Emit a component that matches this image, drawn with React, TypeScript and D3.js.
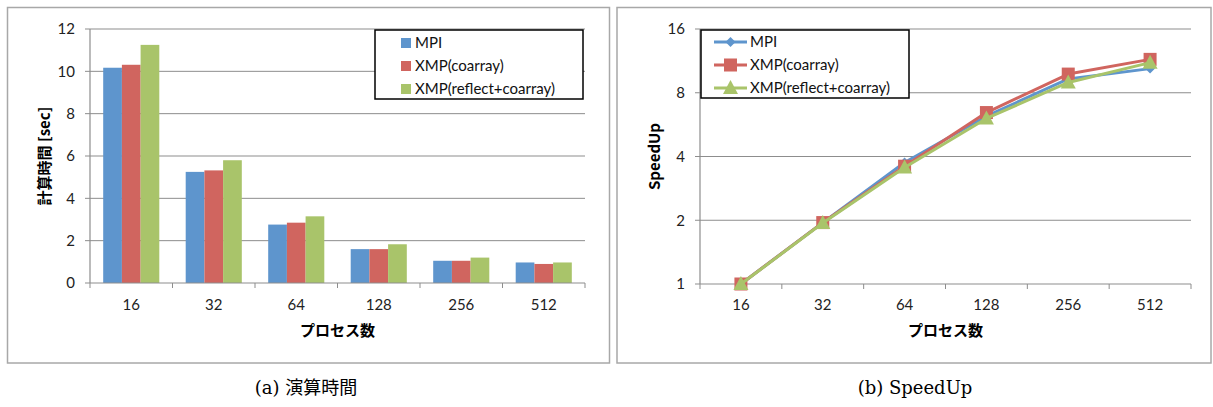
import React from 'react';
import * as d3 from 'd3';

const categories = ['16', '32', '64', '128', '256', '512'];
const seriesNames = ['MPI', 'XMP(coarray)', 'XMP(reflect+coarray)'];
const colors = ['#5e95cd', '#d0655f', '#a9c46a'];

// calc time [sec]
const timeMPI = [10.17, 5.25, 2.76, 1.6, 1.05, 0.97];
const timeCoarray = [10.31, 5.32, 2.85, 1.6, 1.05, 0.9];
const timeReflect = [11.25, 5.8, 3.15, 1.83, 1.2, 0.97];

// speedup
const spMPI = [1, 1.95, 3.75, 6.2, 9.3, 10.4];
const spCoarray = [1, 1.95, 3.6, 6.45, 9.8, 11.5];
const spReflect = [1, 1.94, 3.55, 6.05, 8.95, 11.1];

const timeTicks = [0, 2, 4, 6, 8, 10, 12];
const speedTicks = [1, 2, 4, 8, 16];

const W = 1213;
const H = 407;
const numFont = 'Lato, "Open Sans", sans-serif';
const jpFont = '"Noto Sans CJK JP", sans-serif';
const capFont = '"DejaVu Serif", "Liberation Serif", "Noto Sans CJK JP", serif';
const gridColor = '#8d8d8d';
const frameColor = '#a8a8a8';

const BarChart = () => {
  const left = 90, right = 585, top = 29, bottom = 283;
  const x0 = d3.scaleBand().domain(categories).range([left, right]);
  const bw = x0.bandwidth();
  const gw = bw * 0.68;
  const x1 = d3.scaleBand().domain(seriesNames).range([(bw - gw) / 2, (bw + gw) / 2]);
  const y = d3.scaleLinear().domain([0, 12]).range([bottom, top]);
  const data = [timeMPI, timeCoarray, timeReflect];
  return (
    <g>
      <rect x={7.5} y={7.5} width={602} height={355.5} fill="white" stroke={frameColor} strokeWidth={1.5} />
      {timeTicks.map((t) => (
        <g key={t}>
          {t > 0 && <line x1={left} x2={right} y1={y(t)} y2={y(t)} stroke={gridColor} strokeWidth={1} />}
          <line x1={left - 5} x2={left} y1={y(t)} y2={y(t)} stroke={gridColor} />
          <text x={left - 15} y={y(t)} dy="0.35em" textAnchor="end" fontFamily={numFont} fontSize={15} fill="#222">{t}</text>
        </g>
      ))}
      {data.map((vals, si) =>
        vals.map((v, i) => (
          <rect key={si + '-' + i}
            x={x0(categories[i])! + x1(seriesNames[si])!}
            y={y(v)}
            width={x1.bandwidth()}
            height={y(0) - y(v)}
            fill={colors[si]} />
        ))
      )}
      <line x1={left} x2={left} y1={top} y2={bottom} stroke={gridColor} strokeWidth={1.2} />
      <line x1={left} x2={right} y1={bottom} y2={bottom} stroke={gridColor} strokeWidth={1.2} />
      {categories.concat(['end']).map((c, i) => (
        <line key={c} x1={left + i * bw} x2={left + i * bw} y1={bottom} y2={bottom + 5} stroke={gridColor} />
      ))}
      {categories.map((c) => (
        <text key={c} x={x0(c)! + bw / 2} y={305} dy="0.35em" textAnchor="middle" fontFamily={numFont} fontSize={15} fill="#222">{c}</text>
      ))}
      <text x={(left + right) / 2} y={331} dy="0.35em" textAnchor="middle" fontFamily={jpFont} fontWeight="bold" fontSize={15}>プロセス数</text>
      <text transform={`translate(45,${(top + bottom) / 2}) rotate(-90)`} dy="0.35em" textAnchor="middle" fontFamily={jpFont} fontWeight="bold" fontSize={15}>計算時間 [sec]</text>
      <rect x={375} y={30} width={208} height={69} fill="white" stroke="#000" strokeWidth={1.5} />
      {seriesNames.map((s, i) => (
        <g key={s}>
          <rect x={401} y={38 + i * 23} width={10} height={10} fill={colors[i]} />
          <text x={415} y={43 + i * 23} dy="0.35em" fontFamily={numFont} fontSize={15} fill="#111">{s}</text>
        </g>
      ))}
      <text x={306} y={388} dy="0.35em" textAnchor="middle" fontFamily={capFont} fontSize={18}>(a) 演算時間</text>
    </g>
  );
};

const Marker = ({ kind, x, y, color }: { kind: number; x: number; y: number; color: string }) => {
  if (kind === 0) {
    const r = 5;
    return <path d={`M${x},${y - r}L${x + r},${y}L${x},${y + r}L${x - r},${y}Z`} fill={color} />;
  }
  if (kind === 1) {
    return <rect x={x - 6.5} y={y - 6.5} width={13} height={13} fill={color} />;
  }
  return <path d={`M${x},${y - 8}L${x + 7.5},${y + 6}L${x - 7.5},${y + 6}Z`} fill={color} />;
};

const LineChart = () => {
  const left = 700, right = 1191, top = 29, bottom = 284;
  const x = d3.scaleBand().domain(categories).range([left, right]);
  const bw = x.bandwidth();
  const y = d3.scaleLog().base(2).domain([1, 16]).range([bottom, top]);
  const data = [spMPI, spCoarray, spReflect];
  const line = d3.line<number>()
    .x((_, i) => x(categories[i])! + bw / 2)
    .y((d) => y(d));
  return (
    <g>
      <rect x={617} y={7.5} width={594} height={355.5} fill="white" stroke={frameColor} strokeWidth={1.5} />
      {speedTicks.map((t) => (
        <g key={t}>
          {t > 1 && <line x1={left} x2={right} y1={y(t)} y2={y(t)} stroke={gridColor} strokeWidth={1} />}
          <line x1={left - 5} x2={left} y1={y(t)} y2={y(t)} stroke={gridColor} />
          <text x={left - 15} y={y(t)} dy="0.35em" textAnchor="end" fontFamily={numFont} fontSize={15} fill="#222">{t}</text>
        </g>
      ))}
      <line x1={left} x2={left} y1={top} y2={bottom} stroke={gridColor} strokeWidth={1.2} />
      <line x1={left} x2={right} y1={bottom} y2={bottom} stroke={gridColor} strokeWidth={1.2} />
      {categories.concat(['end']).map((c, i) => (
        <line key={c} x1={left + i * bw} x2={left + i * bw} y1={bottom} y2={bottom + 5} stroke={gridColor} />
      ))}
      {data.map((vals, si) => (
        <g key={si}>
          <path d={line(vals)!} fill="none" stroke={colors[si]} strokeWidth={3} strokeLinejoin="round" />
          {vals.map((v, i) => (
            <Marker key={i} kind={si} x={x(categories[i])! + bw / 2} y={y(v)} color={colors[si]} />
          ))}
        </g>
      ))}
      {categories.map((c) => (
        <text key={c} x={x(c)! + bw / 2} y={305} dy="0.35em" textAnchor="middle" fontFamily={numFont} fontSize={15} fill="#222">{c}</text>
      ))}
      <text x={(left + right) / 2} y={331} dy="0.35em" textAnchor="middle" fontFamily={jpFont} fontWeight="bold" fontSize={15}>プロセス数</text>
      <text transform={`translate(655,${(top + bottom) / 2}) rotate(-90)`} dy="0.35em" textAnchor="middle" fontFamily={jpFont} fontWeight="bold" fontSize={15}>SpeedUp</text>
      <rect x={701} y={30} width={208} height={68} fill="white" stroke="#000" strokeWidth={1.5} />
      {seriesNames.map((s, i) => (
        <g key={s}>
          <line x1={714} x2={747} y1={42 + i * 23} y2={42 + i * 23} stroke={colors[i]} strokeWidth={3} />
          <Marker kind={i} x={730.5} y={42 + i * 23} color={colors[i]} />
          <text x={750} y={42 + i * 23} dy="0.35em" fontFamily={numFont} fontSize={15} fill="#111">{s}</text>
        </g>
      ))}
      <text x={915} y={388} dy="0.35em" textAnchor="middle" fontFamily={capFont} fontSize={18}>(b) SpeedUp</text>
    </g>
  );
};

export default function App() {
  return (
    <svg width={W} height={H} style={{ position: 'absolute', left: 0, top: 0, background: 'white' }}>
      <BarChart />
      <LineChart />
    </svg>
  );
}
